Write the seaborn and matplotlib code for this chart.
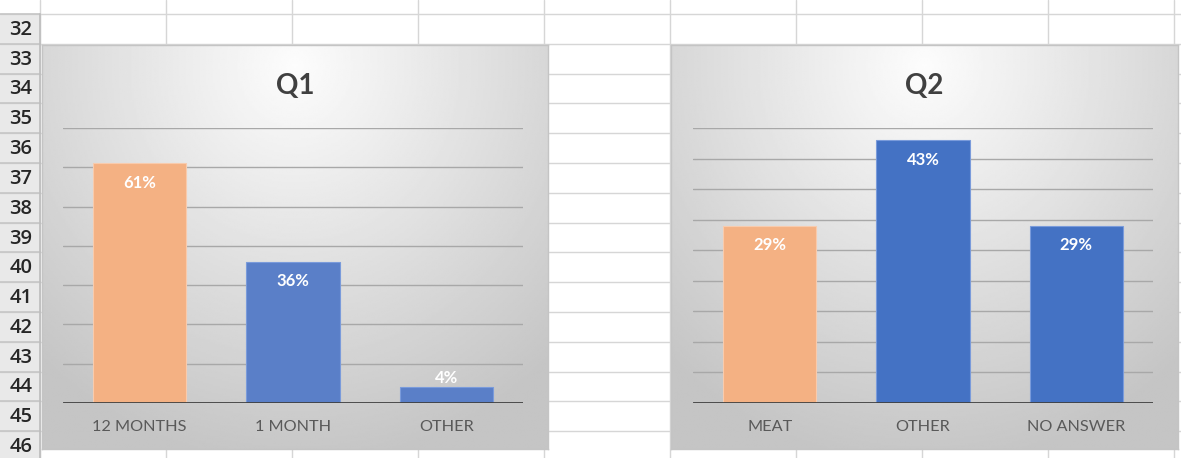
import numpy as np
import matplotlib
matplotlib.use("Agg")
import matplotlib.pyplot as plt
from matplotlib.patches import Rectangle
import seaborn as sns

# data
q1_cats = ["12 MONTHS", "1 MONTH", "OTHER"]
q1_vals = [0.61, 0.36, 0.04]
q1_colors = ["#F4B183", "#5A7FC8", "#5A7FC8"]

q2_cats = ["MEAT", "OTHER", "NO ANSWER"]
q2_vals = [0.29, 0.43, 0.29]
q2_colors = ["#F4B183", "#4472C4", "#4472C4"]

row_labels = [str(r) for r in range(32, 47)]

sns.set_style("white")
plt.rcParams['font.family'] = ['Lato', 'DejaVu Sans']

W, H = 1181, 458
fig = plt.figure(figsize=(W / 100, H / 100), dpi=100)
fig.patch.set_facecolor("white")


def fx(x):
    return x / W


def fy(y):
    return 1 - y / H


def box(x0, y0, x1, y1):
    return [fx(x0), fy(y1), fx(x1) - fx(x0), fy(y0) - fy(y1)]


# spreadsheet grid
grid = fig.add_axes([0, 0, 1, 1])
grid.set_xlim(0, W)
grid.set_ylim(H, 0)
grid.axis("off")
grid.add_patch(Rectangle((0, 14), 40, H, color="#E9E9E9", zorder=0))
row_h = 29.8
for i, lab in enumerate(row_labels):
    top = 14 + i * row_h
    grid.plot([0, W], [top, top], color="#D6D6D6", lw=1, zorder=1)
    grid.plot([0, 40], [top, top], color="#C6C6C6", lw=1.2, zorder=2)
    grid.text(21, top + row_h / 2 + 1, lab, ha="center", va="center",
              fontsize=14.5, fontweight="semibold", color="#262626",
              family=["Open Sans", "DejaVu Sans"])
for x in [40, 166, 292, 418, 544, 670, 796, 922, 1048, 1174]:
    grid.plot([x, x], [0, H], color="#D6D6D6", lw=1, zorder=1)
grid.plot([40, 40], [14, H], color="#BDBDBD", lw=1.2, zorder=2)


def gradient_bg(x0, y0, x1, y1):
    bg = fig.add_axes(box(x0, y0, x1, y1))
    u, v = np.meshgrid(np.linspace(0, 1, 300), np.linspace(0, 1, 240))
    r = np.sqrt(((u - 0.5) / 0.75) ** 2 + ((v - 0.05) / 1.0) ** 2)
    val = 0.99 - 0.22 * np.clip(r, 0, 1)
    bg.imshow(val, cmap="gray", vmin=0, vmax=1, aspect="auto",
              extent=[0, 1, 1, 0])
    bg.set_xlim(0, 1)
    bg.set_ylim(1, 0)
    bg.set_xticks([])
    bg.set_yticks([])
    for s in bg.spines.values():
        s.set_color("#C4C4C4")
        s.set_linewidth(1)


def draw_chart(px0, px1, cats, vals, colors, ymax, step, title, tx):
    ax = fig.add_axes(box(px0, 128, px1, 403))
    ax.set_facecolor("none")
    sns.barplot(x=cats, y=vals, hue=cats, palette=colors, legend=False,
                width=0.61, saturation=1, ax=ax, zorder=3)
    ax.set_ylim(0, ymax)
    ax.set_xlim(-0.5, len(cats) - 0.5)
    for g in np.arange(step, ymax + step / 2, step):
        ax.axhline(g, color="#A8A8A8", lw=1, zorder=1)
    ax.axhline(0, color="#404040", lw=2, zorder=4)
    ax.set_yticks([])
    ax.set_xlabel("")
    ax.set_ylabel("")
    ax.tick_params(axis="x", length=0, pad=12, labelsize=11.7, labelcolor="#595959")
    sns.despine(ax=ax, left=True, bottom=True)
    for p, v, c in zip(ax.patches, vals, colors):
        p.set_edgecolor("#F8CBAD" if c == "#F4B183" else "#7A9BDB")
        p.set_linewidth(0.8)
        xc = p.get_x() + p.get_width() / 2
        if v / ymax > 0.1:
            off = -14
        else:
            off = 7
        ax.annotate(f"{v:.0%}", (xc, v), xytext=(0, off), textcoords="offset points",
                    ha="center", va="center", color="white", fontsize=12,
                    fontweight="bold", zorder=5)
    fig.text(fx(tx), fy(86), title, ha="center", va="center", fontsize=20,
             fontweight="bold", color="#404040")


gradient_bg(42, 45, 548, 449)
gradient_bg(671, 45, 1178, 449)

draw_chart(63, 523, q1_cats, q1_vals, q1_colors, 0.70, 0.10, "Q1", 295)
draw_chart(693, 1153, q2_cats, q2_vals, q2_colors, 0.45, 0.05, "Q2", 924)

fig.savefig("out.png", dpi=100)
